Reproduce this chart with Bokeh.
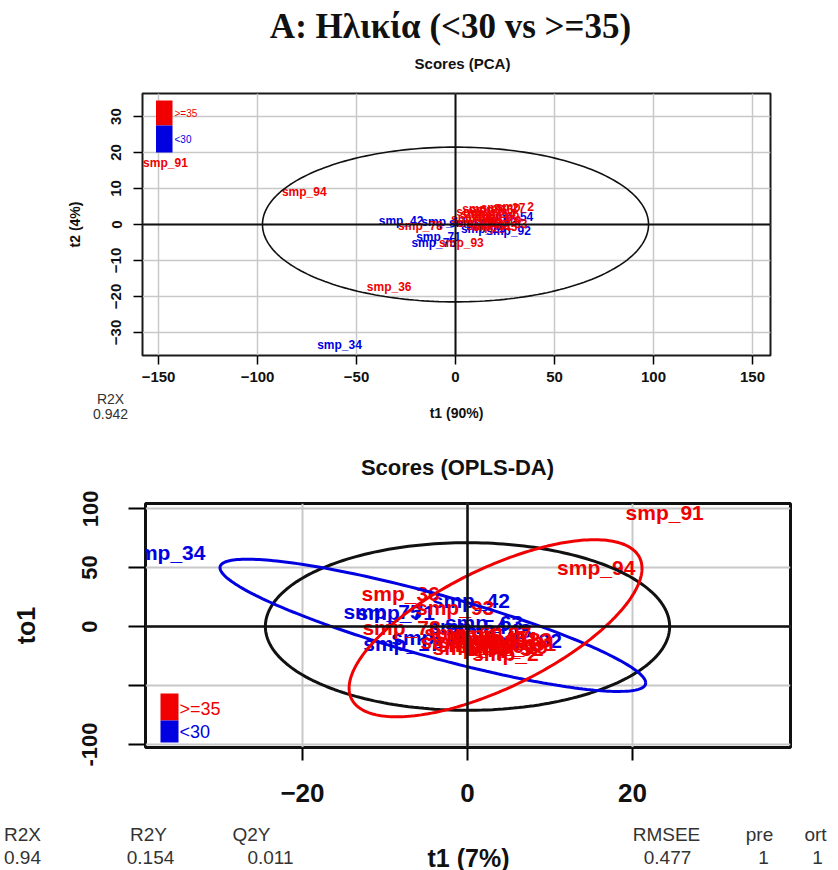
import numpy as np
from bokeh.plotting import figure
from bokeh.layouts import column
from bokeh.models import ColumnDataSource, Span, Label, FixedTicker, Range1d
from bokeh.core.properties import value
from bokeh.embed import file_html
from bokeh.resources import INLINE

# ---------------- data ----------------
groups = [">=35", "<30"]
group_colors = {">=35": "#F00000", "<30": "#0000E0"}

sample_names = ["smp_34", "smp_42", "smp_71", "smp_75", "smp_17", "smp_54", "smp_92", "smp_48",
                "smp_29", "smp_63", "smp_91", "smp_94", "smp_36", "smp_78", "smp_93", "smp_2",
                "smp_5", "smp_8", "smp_11", "smp_14", "smp_19", "smp_23", "smp_27", "smp_31",
                "smp_38", "smp_45", "smp_52", "smp_60", "smp_66", "smp_83"]
sample_groups = ["<30", "<30", "<30", "<30", "<30", "<30", "<30", "<30",
                 "<30", "<30", ">=35", ">=35", ">=35", ">=35", ">=35", ">=35",
                 ">=35", ">=35", ">=35", ">=35", ">=35", ">=35", ">=35", ">=35",
                 ">=35", ">=35", ">=35", ">=35", ">=35", ">=35"]
# PCA scores
pca_t1 = [-58.6, -27.5, -8.6, -11.0, -6.0, 28.0, 26.8, 8.0, 14.0, 20.0,
          -146.5, -76.4, -33.5, -17.7, 3.0, 30.0, 10.0, 13.0, 16.0, 19.0,
          22.0, 12.0, 24.0, 17.0, 9.0, 20.0, 14.0, 21.0, 18.0, 25.0]
pca_t2 = [-33.6, 1.0, -3.5, -5.2, 0.6, 2.2, -1.7, 0.3, -1.2, 0.8,
          17.0, 9.0, -17.4, -0.3, -5.2, 5.0, 3.5, 4.2, 2.0, 3.0,
          1.0, 0.5, 4.5, -0.5, 1.5, -0.8, 2.8, 2.2, 4.0, 0.2]
# OPLS-DA scores (predictive t1, orthogonal to1)
opls_t1 = [-36.5, 0.4, -8.7, -10.3, -7.9, 0.0, 6.7, 3.0, -4.5, 2.0,
           23.9, 15.6, -8.1, -8.0, -1.5, 4.6, 0.0, 2.0, 4.0, 1.0,
           5.0, -1.0, 3.0, 6.0, 0.5, 2.5, 4.5, -0.5, 3.5, 5.5]
opls_to1 = [62.7, 22.0, 12.0, 13.0, -14.5, 0.0, -12.0, -3.0, -9.0, 3.5,
            96.6, 50.0, 28.0, -0.8, 16.5, -23.0, -8.0, -12.0, -10.0, -15.0,
            -17.0, -13.0, -6.0, -14.0, -18.0, -9.0, -19.0, -5.0, -16.0, -11.0]

pca_x_ticks = [-150, -100, -50, 0, 50, 100, 150]
pca_y_ticks = [-30, -20, -10, 0, 10, 20, 30]
opls_x_ticks = [-20, 0, 20]
opls_y_ticks = [-100, -50, 0, 50, 100]
opls_y_tick_labels = {-100: "-100", -50: "", 0: "0", 50: "50", 100: "100"}

pca_axis_titles = ["t1 (90%)", "t2 (4%)"]
pca_r2x = "0.942"
opls_axis_titles = ["t1 (7%)", "to1"]
opls_stat_names = ["R2X", "R2Y", "Q2Y", "RMSEE", "pre", "ort"]
opls_stat_values = ["0.94", "0.154", "0.011", "0.477", "1", "1"]

# Hotelling T2 ellipses (semi-axes along t1 and t2/to1)
pca_t2_ellipse = [97.5, 21.5]
opls_t2_ellipse = [24.5, 71.0]
# per-group ellipses: centre x, centre y, sd x, sd y, correlation
group_ellipses = {
    "<30": [-4.2, 1.0, 25.8, 56.0, -0.871],
    ">=35": [3.4, -1.5, 17.75, 75.0, 0.676],
}

TITLE = "A: Ηλικία (<30 vs >=35)"
SANS = "Liberation Sans"
INK = "#111111"
GREY_TXT = "#333333"
W = 838

# ---------------- helpers ----------------
theta = np.linspace(0, 2 * np.pi, 240)


def to_data(px, py, frame, xr, yr):
    """Pixel position inside a figure -> its data coordinates."""
    x = xr[0] + (px - frame[0]) * (xr[1] - xr[0]) / (frame[1] - frame[0])
    y = yr[1] - (py - frame[2]) * (yr[1] - yr[0]) / (frame[3] - frame[2])
    return x, y


def style_axes(p, label_size, tick_out, tick_width):
    for ax in list(p.xaxis) + list(p.yaxis):
        ax.axis_line_color = None
        ax.major_tick_in = 0
        ax.major_tick_out = tick_out
        ax.major_tick_line_color = "black"
        ax.major_tick_line_width = tick_width
        ax.minor_tick_line_color = None
        ax.major_label_text_font = SANS
        ax.major_label_text_font_style = "bold"
        ax.major_label_text_font_size = label_size
        ax.major_label_text_color = INK
        ax.axis_label_text_font = SANS
        ax.axis_label_text_font_style = "bold"
        ax.axis_label_text_color = INK
    p.yaxis.major_label_orientation = "vertical"


def text_strip(height):
    """Axis-free band whose data units are pixels (y grows downwards)."""
    s = figure(width=W, height=height, x_range=Range1d(0, W), y_range=Range1d(height, 0),
               title=None, output_backend="svg", toolbar_location=None,
               x_axis_location=None, y_axis_location=None, frame_align=False,
               min_border_left=0, min_border_right=0, min_border_top=0, min_border_bottom=0,
               outline_line_color=None, background_fill_color="white",
               border_fill_color="white")
    s.grid.visible = False
    return s


def put(p, x, y, text, size, color=INK, style="normal", font=SANS, align="center"):
    p.add_layout(Label(x=x, y=y, text=text, text_font=font, text_font_size=size,
                       text_font_style=style, text_color=color, text_align=align,
                       text_baseline="middle"))


colors = [group_colors[g] for g in sample_groups]
src = ColumnDataSource(dict(name=sample_names, color=colors,
                            pca_t1=pca_t1, pca_t2=pca_t2,
                            opls_t1=opls_t1, opls_to1=opls_to1))

# ---------------- header band ----------------
HEAD_H = 80
head = text_strip(HEAD_H)
put(head, 450, 26, TITLE, "35px", INK, "bold", font="Liberation Serif")
put(head, 462, 63, "Scores (PCA)", "15px", INK, "bold")

# ---------------- PCA score plot ----------------
P1_H = 310                          # canvas y 80 .. 390
F1 = (142, 770, 13, 275)            # frame left, right, top, bottom (px in figure)
X1 = (-158.1, 159.1)
Y1 = (-36.4, 36.4)
p1 = figure(width=W, height=P1_H, x_range=X1, y_range=Y1, title=None,
            output_backend="svg", toolbar_location=None, frame_align=False,
            min_border_left=F1[0], min_border_right=W - F1[1],
            min_border_top=F1[2], min_border_bottom=P1_H - F1[3],
            background_fill_color="white", border_fill_color="white",
            outline_line_color="#1a1a1a", outline_line_width=2)
style_axes(p1, "15px", 9, 1.5)
p1.xaxis.ticker = FixedTicker(ticks=pca_x_ticks)
p1.yaxis.ticker = FixedTicker(ticks=pca_y_ticks)
p1.xaxis.major_label_standoff = 7
p1.yaxis.major_label_standoff = 12
p1.yaxis.axis_label = pca_axis_titles[1]
p1.yaxis.axis_label_text_font_size = "14px"
p1.yaxis.axis_label_standoff = 26
p1.xgrid.ticker = FixedTicker(ticks=pca_x_ticks)
p1.ygrid.ticker = FixedTicker(ticks=pca_y_ticks)
for g in (p1.xgrid[0], p1.ygrid[0]):
    g.grid_line_color = "#c8c8c8"
    g.grid_line_width = 1.5
p1.add_layout(Span(location=0, dimension="width", line_color=INK, line_width=2))
p1.add_layout(Span(location=0, dimension="height", line_color=INK, line_width=2))

p1.text(x="pca_t1", y="pca_t2", text="name", source=src, text_color="color",
        text_font=value(SANS), text_font_style="bold", text_font_size="12px",
        text_align="center", text_baseline="middle")
p1.line(pca_t2_ellipse[0] * np.cos(theta), pca_t2_ellipse[1] * np.sin(theta),
        line_color=INK, line_width=1.6)

# colour key
for (top, bot), grp in zip([(20, 45), (45, 72)], groups):
    x0, y0 = to_data(155.5, top, F1, X1, Y1)
    x1_, y1_ = to_data(172, bot, F1, X1, Y1)
    p1.quad(left=x0, right=x1_, top=y0, bottom=y1_, fill_color=group_colors[grp],
            line_color=None)
for py, grp in zip([33, 59], groups):
    x, y = to_data(174, py, F1, X1, Y1)
    put(p1, x, y, grp, "10px", group_colors[grp], align="left")

# ---------------- band between the plots ----------------
MID_H = 100                         # canvas y 390 .. 490
mid = text_strip(MID_H)
put(mid, 110, 8, "R2X", "14px", GREY_TXT)
put(mid, 110, 23, pca_r2x, "14px", GREY_TXT)
put(mid, 456, 22, pca_axis_titles[0], "14px", INK, "bold")
put(mid, 457, 77, "Scores (OPLS-DA)", "22px", INK, "bold")

# ---------------- OPLS-DA score plot ----------------
P2_H = 326                          # canvas y 490 .. 816
F2 = (145, 790, 13, 257)
X2 = (-39.03, 39.15)
Y2 = (-102.5, 104.2)
p2 = figure(width=W, height=P2_H, x_range=X2, y_range=Y2, title=None,
            output_backend="svg", toolbar_location=None, frame_align=False,
            min_border_left=F2[0], min_border_right=W - F2[1],
            min_border_top=F2[2], min_border_bottom=P2_H - F2[3],
            background_fill_color="white", border_fill_color="white",
            outline_line_color=INK, outline_line_width=3)
style_axes(p2, "26px", 13, 2)
p2.xaxis.ticker = FixedTicker(ticks=opls_x_ticks)
p2.yaxis.ticker = FixedTicker(ticks=opls_y_ticks)
p2.yaxis.major_label_overrides = opls_y_tick_labels
p2.yaxis.major_tick_out = 17
p2.yaxis.major_label_text_font_size = "22px"
p2.xaxis.major_label_standoff = 23
p2.yaxis.major_label_standoff = 31
p2.yaxis.axis_label = opls_axis_titles[1]
p2.yaxis.axis_label_text_font_size = "25px"
p2.yaxis.axis_label_standoff = 40
p2.xgrid.ticker = FixedTicker(ticks=opls_x_ticks)
p2.ygrid.ticker = FixedTicker(ticks=opls_y_ticks)
for g in (p2.xgrid[0], p2.ygrid[0]):
    g.grid_line_color = "#c8c8c8"
    g.grid_line_width = 2
p2.add_layout(Span(location=0, dimension="width", line_color=INK, line_width=2.5))
p2.add_layout(Span(location=0, dimension="height", line_color=INK, line_width=2.5))

p2.text(x="opls_t1", y="opls_to1", text="name", source=src, text_color="color",
        text_font=value(SANS), text_font_style="bold", text_font_size="21px",
        text_align="center", text_baseline="middle")

p2.line(opls_t2_ellipse[0] * np.cos(theta), opls_t2_ellipse[1] * np.sin(theta),
        line_color=INK, line_width=3)
for grp in ["<30", ">=35"]:
    cx, cy, sx, sy, r = group_ellipses[grp]
    ex = cx + sx * np.cos(theta)
    ey = cy + sy * (r * np.cos(theta) + np.sqrt(1 - r * r) * np.sin(theta))
    p2.line(ex, ey, line_color=group_colors[grp], line_width=3)

for (top, bot), grp in zip([(203, 230), (230, 252)], groups):
    x0, y0 = to_data(160, top, F2, X2, Y2)
    x1_, y1_ = to_data(178, bot, F2, X2, Y2)
    p2.quad(left=x0, right=x1_, top=y0, bottom=y1_, fill_color=group_colors[grp],
            line_color=None)
for py, grp in zip([218, 241], groups):
    x, y = to_data(179, py, F2, X2, Y2)
    put(p2, x, y, grp, "18px", group_colors[grp], align="left")

# ---------------- model summary band ----------------
FOOT_H = 54                         # canvas y 816 .. 870
foot = text_strip(FOOT_H)
put(foot, 468, 41, opls_axis_titles[0], "25px", INK, "bold")
stat_name_x = [22, 148, 251, 666, 759, 815]
stat_value_x = [22, 150, 270, 667, 763, 817]
for name, val, xn, xv in zip(opls_stat_names, opls_stat_values, stat_name_x, stat_value_x):
    put(foot, xn, 18, name, "19px", GREY_TXT)
    put(foot, xv, 41, val, "19px", GREY_TXT)

layout = column(head, p1, mid, p2, foot, spacing=0)
open("out.html", "w").write(file_html(layout, INLINE))
